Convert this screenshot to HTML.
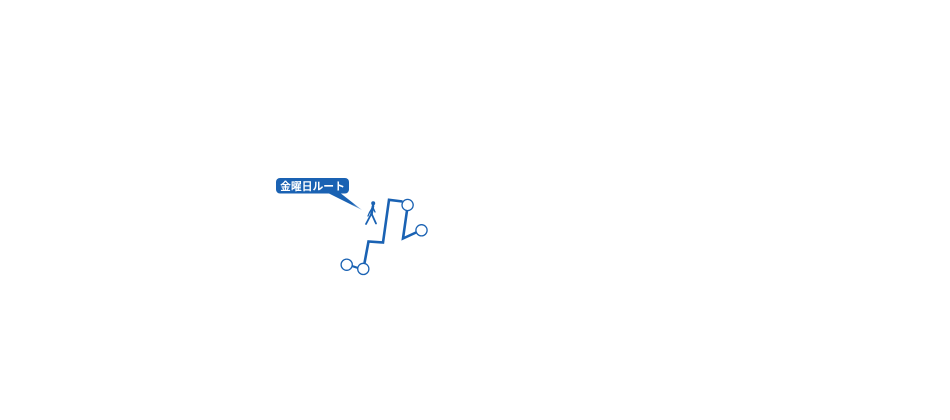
<!DOCTYPE html>
<html>
<head>
<meta charset="utf-8">
<style>
  html, body { margin: 0; padding: 0; background: #ffffff; }
  body { width: 950px; height: 420px; overflow: hidden; position: relative; }
  svg { position: absolute; left: 0; top: 0; }
</style>
</head>
<body>
<svg width="950" height="420" viewBox="0 0 950 420" xmlns="http://www.w3.org/2000/svg">
  <defs>
    <linearGradient id="tailg" x1="327" y1="193" x2="362" y2="210" gradientUnits="userSpaceOnUse">
      <stop offset="0" stop-color="#1a62b3"/>
      <stop offset="0.7" stop-color="#1a62b3"/>
      <stop offset="1" stop-color="#9dc0e6"/>
    </linearGradient>
  </defs>
  <!-- callout tail -->
  <polygon points="326,192 339,192 362,210" fill="url(#tailg)"/>
  <!-- label box -->
  <rect x="276" y="178" width="73" height="15.5" rx="4" ry="4" fill="#1a62b3"/>
  <text x="312.5" y="189.8" text-anchor="middle" font-family="'Liberation Sans','Noto Sans CJK JP',sans-serif" font-weight="bold" font-size="10.8" fill="#ffffff">金曜日ルート</text>

  <!-- walker -->
  <g fill="none" stroke="#1a62b3" stroke-linecap="round" stroke-linejoin="round">
    <circle cx="373.2" cy="203.2" r="2" fill="#1a62b3" stroke="none"/>
    <path d="M373,206 L371.5,214" stroke-width="2.6"/>
    <path d="M371.5,213.5 L366,224" stroke-width="1.8"/>
    <path d="M371.5,213.5 L373.5,218 L376,223.5" stroke-width="1.8"/>
    <path d="M372.5,207.5 L369.5,212.5 L368,216" stroke-width="1.3"/>
    <path d="M373,207.5 L375,212" stroke-width="1.3"/>
  </g>

  <!-- route -->
  <g fill="none" stroke="#1a62b3" stroke-linejoin="miter">
    <path d="M352,266 L358,268" stroke-width="2.2"/>
    <path d="M364.5,263 L368.5,241.5 L383,242.5 L389,199.8 L402.5,201.5" stroke-width="2.6"/>
    <path d="M407,210.5 L403,238.5 L416,232.5" stroke-width="2.6"/>
  </g>
  <g fill="#ffffff" stroke="#1a62b3" stroke-width="1.3">
    <circle cx="346.7" cy="264.7" r="5.6"/>
    <circle cx="363.3" cy="268.9" r="5.6"/>
    <circle cx="407.6" cy="205" r="5.6"/>
    <circle cx="421.5" cy="230.3" r="5.6"/>
  </g>
</svg>
</body>
</html>
